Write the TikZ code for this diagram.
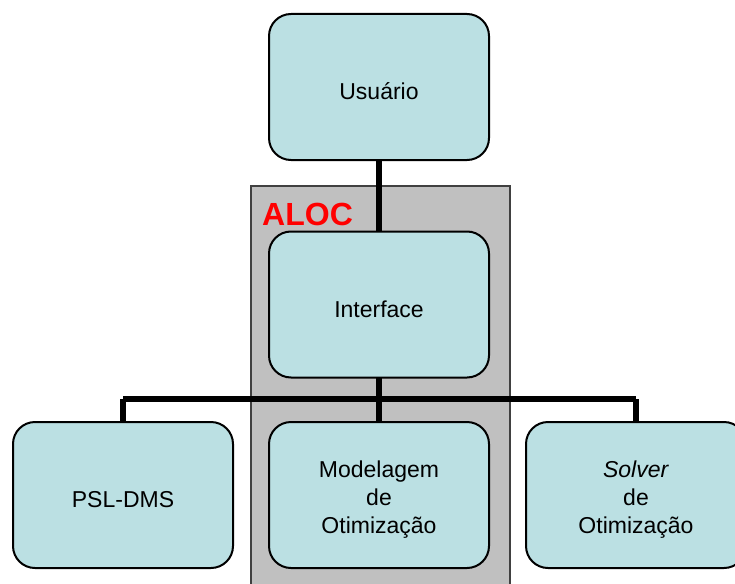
\documentclass[tikz,border=0pt]{standalone}
\usepackage{fontspec}
\setmainfont{Liberation Sans}
\definecolor{boxfill}{RGB}{187,224,227}
\definecolor{panelgray}{RGB}{192,192,192}
\definecolor{alocred}{RGB}{255,0,0}
\begin{document}
\begin{tikzpicture}[x=1pt,y=-1pt,
  block/.style={draw=black, line width=2pt, fill=boxfill, rounded corners=22pt,
    minimum width=220pt, minimum height=146pt, inner sep=0pt,
    label={[align=center, yshift=-4.5pt, inner sep=0pt,
      font=\fontsize{23}{28}\selectfont]center:#1}},
  link/.style={line width=6pt, draw=black}]
  \useasboundingbox (0,0) rectangle (735,583);
  \clip (0,0) rectangle (735,583);

  % ALOC panel
  \fill[panelgray] (251,186) rectangle (510,590);
  \draw[line width=1.5pt, draw=black!75] (251,590) -- (251,186) -- (510,186) -- (510,590);
  \node[anchor=west, inner sep=0pt, text=alocred, font=\fontsize{32}{32}\selectfont\bfseries] (aloc) at (262,214) {ALOC};

  % bus junction points
  \coordinate (hub) at (379,399);
  \coordinate (hubL) at (123,399);
  \coordinate (hubR) at (636,399);

  % connectors (drawn under the boxes)
  \draw[link] (379,87) -- (379,304);
  \draw[link] (379,304) -- (hub);
  \draw[link] (hubL) -- (hubR);
  \draw[link] (hubL) -- (123,495);
  \draw[link] (hub) -- (379,495);
  \draw[link] (hubR) -- (636,495);

  % boxes
  \node[block={Usuário}] (user) at (379,87) {};
  \node[block={Interface}] (iface) at (379,304.5) {};
  \node[block={PSL-DMS}] (psl) at (123,495) {};
  \node[block={Modelagem\\de\\Otimização}] (model) at (379,495) {};
  \node[block={\textit{Solver}\\de\\Otimização}] (solver) at (636,495) {};
\end{tikzpicture}
\end{document}
